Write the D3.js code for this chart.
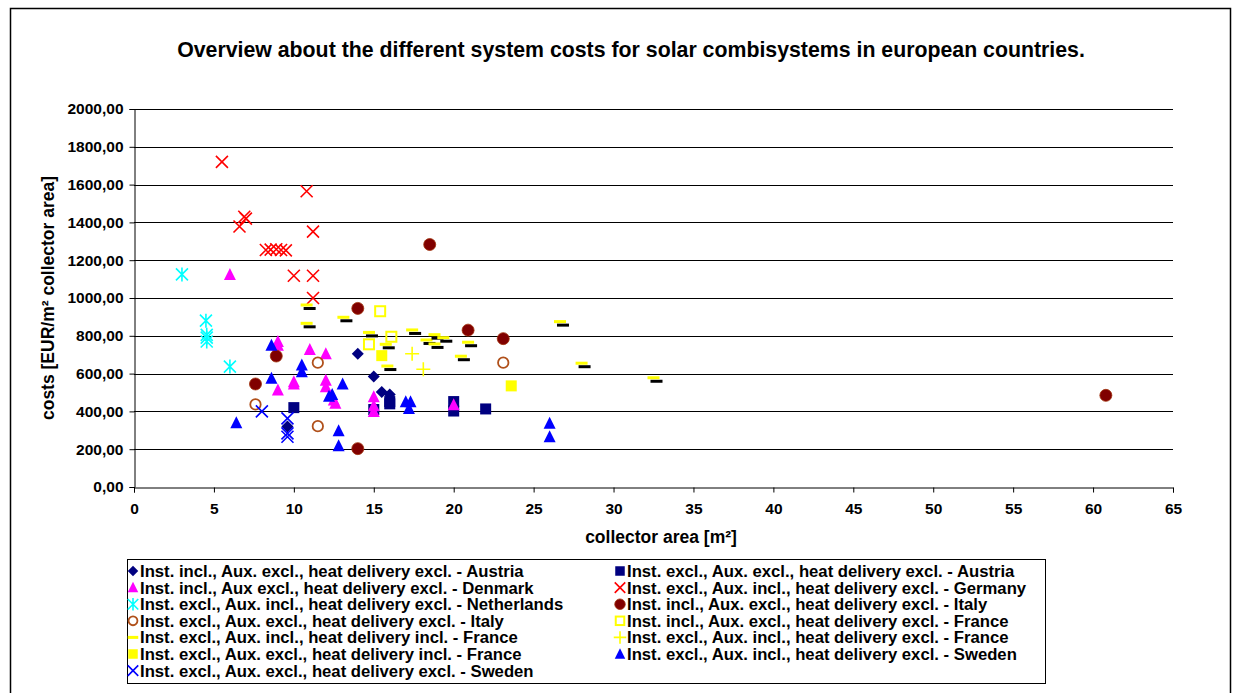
<!DOCTYPE html>
<html>
<head>
<meta charset="utf-8">
<script src="https://cdn.jsdelivr.net/npm/d3@7"></script>
<style>
  html, body { margin: 0; padding: 0; background: #fff; }
  svg text { font-family: "Liberation Sans", Arial, sans-serif; font-weight: bold; fill: #000; }
</style>
</head>
<body>
<svg id="chart" width="1238" height="693"></svg>
<script>
// ---- data: [collector area m², cost EUR/m²] ----
const austriaInclDiamond = [[14, 705], [15, 585], [15.5, 503], [16, 490], [9.6, 320]];
const austriaExclSquare = [[10, 420], [15, 410], [16, 452], [16, 440], [20, 452], [20, 402], [22, 413]];
const denmarkTriangle = [[6, 1125], [9, 770], [9, 750], [11, 728], [12, 705], [9, 513], [10, 557], [10, 545],
  [12, 565], [12, 530], [12.6, 443], [12.5, 460], [15, 478], [15, 430], [15, 400], [20, 435]];
const germanyX = [[5.5, 1720], [6.9, 1430], [7, 1420], [6.6, 1378], [8.25, 1254], [8.55, 1256], [8.9, 1258],
  [9.2, 1254], [9.5, 1252], [10, 1118], [11.2, 1118], [10.8, 1565], [11.2, 1351], [11.2, 1000]];
const netherlandsStar = [[3, 1125], [4.5, 880], [4.55, 805], [4.55, 790], [4.55, 770], [6, 637]];
const italyFilledCircle = [[18.5, 1283], [14, 945], [20.9, 830], [23.1, 785], [14, 203], [8.9, 693], [7.6, 545], [60.8, 485]];
const italyOpenCircle = [[7.6, 437], [11.5, 658], [11.5, 322], [23.1, 658]];
const franceOpenSquare = [[15.4, 930], [16.1, 795], [14.7, 755]];
const franceDash = [[10.8, 963], [10.8, 866], [13.1, 898], [14.7, 818], [15.75, 755], [15.85, 640], [17.4, 831],
  [18.3, 778], [18.8, 806], [18.8, 757], [19.35, 790], [20.9, 766], [20.45, 692], [26.65, 875], [28, 655], [32.5, 578]];
const franceFilledSquare = [[15.5, 695], [23.6, 535]];
const franceCross = [[17.4, 705], [18.1, 623]];
const swedenTriangle = [[6.4, 340], [8.6, 750], [8.6, 575], [10.5, 646], [10.5, 610], [12.2, 480], [12.4, 490],
  [13.05, 545], [12.8, 298], [12.8, 218], [17.0, 451], [17.3, 451], [17.2, 415], [26, 337], [26, 266]];
const swedenX = [[8, 400], [9.6, 363], [9.6, 284], [9.6, 266]];

const xTicks = d3.range(0, 66, 5);
const yTicks = d3.range(0, 2001, 200);

const chartTitle = "Overview about the different system costs for solar combisystems in european countries.";
const xTitle = "collector area [m²]";
const yTitle = "costs [EUR/m² collector area]";

// series in legend order (left column, then right column)
const series = [
  { name: "Inst. incl., Aux. excl., heat delivery excl. - Austria", data: austriaInclDiamond, mark: "diamond", color: "#000080" },
  { name: "Inst. excl., Aux. excl., heat delivery excl. - Austria", data: austriaExclSquare, mark: "square", color: "#000080" },
  { name: "Inst. incl., Aux excl., heat delivery excl. - Denmark", data: denmarkTriangle, mark: "triangle", color: "#ff00ff" },
  { name: "Inst. excl., Aux. incl., heat delivery excl. - Germany", data: germanyX, mark: "x", color: "#ff0000" },
  { name: "Inst. excl., Aux. incl., heat delivery excl. - Netherlands", data: netherlandsStar, mark: "star", color: "#00ffff" },
  { name: "Inst. incl., Aux. excl., heat delivery excl. - Italy", data: italyFilledCircle, mark: "circle", color: "#800000" },
  { name: "Inst. excl., Aux. excl., heat delivery excl. - Italy", data: italyOpenCircle, mark: "ocircle", color: "#b0501a" },
  { name: "Inst. incl., Aux. excl., heat delivery excl. - France", data: franceOpenSquare, mark: "osquare", color: "#ffff00" },
  { name: "Inst. excl., Aux. incl., heat delivery incl. - France", data: franceDash, mark: "dash", color: "#ffff00" },
  { name: "Inst. excl., Aux. incl., heat delivery excl. - France", data: franceCross, mark: "plus", color: "#ffff00" },
  { name: "Inst. excl., Aux. excl., heat delivery incl. - France", data: franceFilledSquare, mark: "square", color: "#ffff00" },
  { name: "Inst. excl., Aux. incl., heat delivery excl. - Sweden", data: swedenTriangle, mark: "triangle", color: "#0000ff" },
  { name: "Inst. excl., Aux. excl., heat delivery excl. - Sweden", data: swedenX, mark: "x", color: "#0000ff" }
];

const FONT = "'Liberation Sans', Arial, sans-serif";
const svg = d3.select("#chart");

// outer chart frame
svg.append("rect").attr("x", 10.5).attr("y", 8.5).attr("width", 1220).attr("height", 690)
  .attr("fill", "none").attr("stroke", "#000").attr("stroke-width", 1.5);

const x = d3.scaleLinear().domain([0, 65]).range([134, 1173]);
const y = d3.scaleLinear().domain([0, 2000]).range([487, 109]);

// gridlines
svg.append("g").selectAll("line").data(yTicks.filter(t => t > 0)).join("line")
  .attr("x1", x(0)).attr("x2", x(65))
  .attr("y1", d => Math.round(y(d)) + 0.5).attr("y2", d => Math.round(y(d)) + 0.5)
  .attr("stroke", "#000").attr("stroke-width", 1);

// y axis
const yAxis = svg.append("g").attr("transform", `translate(${x(0) + 0.5},0)`)
  .call(d3.axisLeft(y).tickValues(yTicks).tickSize(5).tickPadding(6)
    .tickFormat(d => d3.format(".2f")(d).replace(".", ",")));
yAxis.select(".domain").attr("stroke", "#000");
yAxis.selectAll("text").attr("font-size", 15.5).style("font-family", FONT).attr("font-weight", "bold");

// x axis
const xAxis = svg.append("g").attr("transform", `translate(0,${Math.round(y(0)) + 0.5})`)
  .call(d3.axisBottom(x).tickValues(xTicks).tickSize(5).tickPadding(10).tickFormat(d3.format("d")));
xAxis.select(".domain").attr("stroke", "#000");
xAxis.selectAll("text").attr("font-size", 15.5).style("font-family", FONT).attr("font-weight", "bold");

// titles
svg.append("text").attr("x", 631).attr("y", 57).attr("text-anchor", "middle")
  .attr("font-size", 21.3).text(chartTitle);
svg.append("text").attr("x", 661).attr("y", 543).attr("text-anchor", "middle")
  .attr("font-size", 17.5).text(xTitle);
svg.append("text").attr("transform", `translate(54,${y(1000)}) rotate(-90)`).attr("text-anchor", "middle")
  .attr("font-size", 17.5).text(yTitle);

// marker drawing
function drawMarker(g, mark, color, s) {
  const h = s / 2;
  switch (mark) {
    case "diamond":
      g.append("path").attr("d", `M0,${-h}L${h},0L0,${h}L${-h},0Z`).attr("fill", color);
      break;
    case "square":
      g.append("rect").attr("x", -h + 0.5).attr("y", -h + 0.5).attr("width", s - 1).attr("height", s - 1).attr("fill", color);
      break;
    case "osquare":
      g.append("rect").attr("x", -h + 1).attr("y", -h + 1).attr("width", s - 2).attr("height", s - 2)
        .attr("fill", "none").attr("stroke", color).attr("stroke-width", 2);
      break;
    case "triangle":
      g.append("path").attr("d", `M0,${-h - 0.5}L${h},${h - 0.5}L${-h},${h - 0.5}Z`).attr("fill", color);
      break;
    case "circle":
      g.append("circle").attr("r", h).attr("fill", color).attr("stroke", "#a0300a").attr("stroke-width", 0.8);
      break;
    case "ocircle":
      g.append("circle").attr("r", h - 0.8).attr("fill", "none").attr("stroke", color).attr("stroke-width", 1.8);
      break;
    case "x":
      g.append("path").attr("d", `M${-h},${-h}L${h},${h}M${-h},${h}L${h},${-h}`)
        .attr("stroke", color).attr("stroke-width", 1.6).attr("fill", "none");
      break;
    case "star":
      g.append("path").attr("d", `M${-h},${-h}L${h},${h}M${-h},${h}L${h},${-h}M0,${-h - 1}L0,${h + 1}`)
        .attr("stroke", color).attr("stroke-width", 1.6).attr("fill", "none");
      break;
    case "plus":
      g.append("path").attr("d", `M${-h - 1},0L${h + 1},0M0,${-h - 1}L0,${h + 1}`)
        .attr("stroke", color).attr("stroke-width", 1.6).attr("fill", "none");
      break;
    case "dash":
      g.append("rect").attr("x", -h).attr("y", -1.5).attr("width", s).attr("height", 3).attr("fill", color);
      break;
  }
}

// points
const plot = svg.append("g");
series.forEach(sr => {
  sr.data.forEach(([dx, dy]) => {
    const g = plot.append("g").attr("transform", `translate(${x(dx)},${y(dy)})`);
    if (sr.mark === "dash") {
      // dark shadow under each dash marker
      const sh = g.append("g").attr("transform", "translate(3,3.5)");
      drawMarker(sh, "dash", "#000", 12);
      drawMarker(g, "dash", sr.color, 12);
    } else {
      drawMarker(g, sr.mark, sr.color, 12);
    }
  });
});

// legend
svg.append("rect").attr("x", 127.5).attr("y", 559.5).attr("width", 918).attr("height", 124)
  .attr("fill", "#fff").attr("stroke", "#000").attr("stroke-width", 1);
const rowY = i => 571 + i * 16.6;
series.forEach((sr, i) => {
  const col = i % 2, row = Math.floor(i / 2);
  const mx = col === 0 ? 133 : 620;
  const g = svg.append("g").attr("transform", `translate(${mx},${rowY(row)})`);
  drawMarker(g, sr.mark, sr.color, 10.5);
  svg.append("text").attr("x", mx + 7).attr("y", rowY(row) + 6)
    .attr("font-size", 16.7).text(sr.name);
});
</script>
</body>
</html>
